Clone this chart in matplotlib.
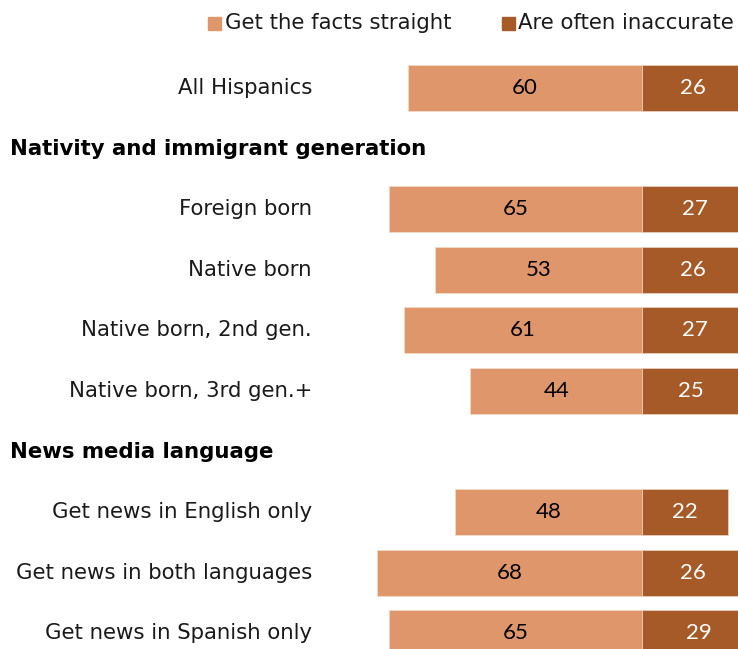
import numpy as np
import matplotlib.pyplot as plt
from matplotlib.patches import Rectangle

# rows top to bottom; None marks a section header
row_labels = ["All Hispanics",
              "Nativity and immigrant generation",
              "Foreign born", "Native born", "Native born, 2nd gen.", "Native born, 3rd gen.+",
              "News media language",
              "Get news in English only", "Get news in both languages", "Get news in Spanish only"]
is_header = [False, True, False, False, False, False, True, False, False, False]
facts_straight = [60, None, 65, 53, 61, 44, None, 48, 68, 65]
often_inaccurate = [26, None, 27, 26, 27, 25, None, 22, 26, 29]

light = "#DE966A"
dark = "#A55A27"
txt_col = "#1a1a1a"

W, H = 738, 649
fig = plt.figure(figsize=(W / 100, H / 100), dpi=100)
ax = fig.add_axes([0, 0, 1, 1])

px_per_unit = 3.9
center = 642
row0, step = 88, 60.6
ax.set_xlim(-center / px_per_unit, (W - center) / px_per_unit)
ax.set_ylim((H - row0) / step, -row0 / step)
ax.axis("off")

lab_x = (312 - center) / px_per_unit
head_x = (10 - center) / px_per_unit
fs = 15.3

for i, lab in enumerate(row_labels):
    if is_header[i]:
        ax.text(head_x, i, lab, ha="left", va="center", fontsize=fs, fontweight="bold",
                color="black")
        continue
    ax.text(lab_x, i, lab, ha="right", va="center", fontsize=fs, color=txt_col)
    a, b = facts_straight[i], often_inaccurate[i]
    ax.barh(i, -a, height=0.76, color=light, edgecolor="#F3D9C8", linewidth=0.6)
    ax.barh(i, b, height=0.76, color=dark, edgecolor="#E8CDBB", linewidth=0.6)
    ax.text(-a / 2, i, str(a), ha="center", va="center", fontsize=16,
            family="Lato", color="black")
    ax.text(b / 2, i, str(b), ha="center", va="center", fontsize=16,
            family="Lato", color="white")

# legend
for x0, tx, col, txt in [(208, 225, light, "Get the facts straight"),
                         (502, 518, dark, "Are often inaccurate")]:
    fig.add_artist(Rectangle((x0 / W, 1 - 30 / H), 13 / W, 13 / H, color=col,
                             transform=fig.transFigure))
    fig.text(tx / W, 1 - 23 / H, txt, ha="left", va="center", fontsize=fs, color=txt_col)

fig.savefig("out.png", dpi=100)
